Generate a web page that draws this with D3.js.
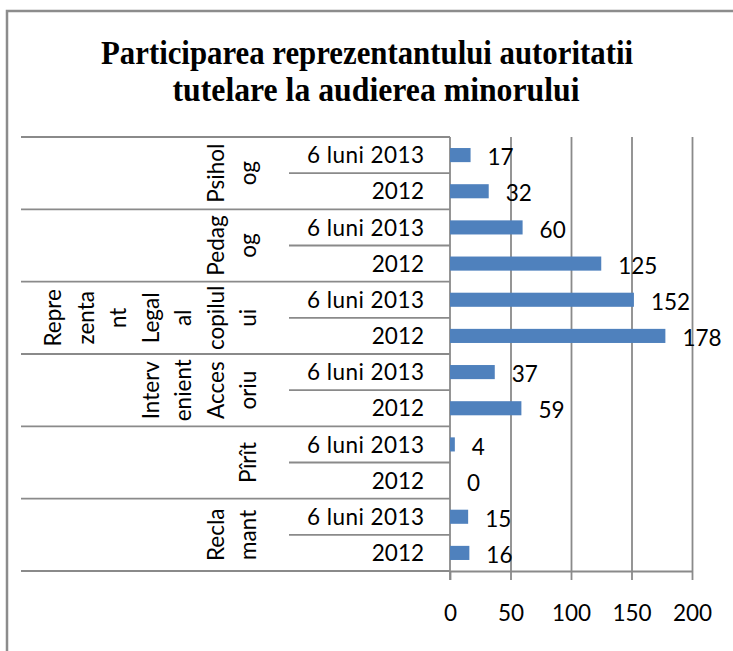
<!DOCTYPE html>
<html>
<head>
<meta charset="utf-8">
<script src="https://cdn.jsdelivr.net/npm/d3@7"></script>
<style>
  html, body { margin: 0; padding: 0; background: #fff; overflow: hidden; }
  svg { display: block; }
</style>
</head>
<body>
<svg id="chart" width="733" height="651"></svg>
<script>
// ---- data ----
const titleLines = ["Participarea reprezentantului autoritatii", "tutelare la audierea minorului"];
const groups = ["Psiholog", "Pedagog", "Reprezentant Legal al copilului", "Intervenient Accesoriu", "Pîrît", "Reclamant"];
const groupLabelLines = [
  ["Psihol", "og"],
  ["Pedag", "og"],
  ["Repre", "zenta", "nt", "Legal", "al", "copilul", "ui"],
  ["Interv", "enient", "Acces", "oriu"],
  ["Pîrît"],
  ["Recla", "mant"]
];
const periods = ["6 luni 2013", "2012"];
const values2013 = [17, 60, 152, 37, 4, 15];
const values2012 = [32, 125, 178, 59, 0, 16];
const xTicks = [0, 50, 100, 150, 200];

// ---- build rows ----
const rows = [];
groups.forEach((g, i) => {
  rows.push({ key: g + "|" + periods[0], group: i, period: periods[0], value: values2013[i] });
  rows.push({ key: g + "|" + periods[1], group: i, period: periods[1], value: values2012[i] });
});

const svg = d3.select("#chart");
const FONT = "Lato, 'Open Sans', sans-serif";
const GRID = "#8a8a8a";

// frame (only top and left edges are inside the picture)
svg.append("path")
  .attr("d", "M7,651 L7,11 L733,11")
  .attr("fill", "none").attr("stroke", "#8c8c8c").attr("stroke-width", 2.5);

// title
const title = svg.append("text")
  .attr("font-family", "'Liberation Serif', 'Times New Roman', serif")
  .attr("font-weight", "bold").attr("font-size", 33)
  .attr("text-anchor", "middle").attr("fill", "#000");
title.append("tspan").attr("x", 367).attr("y", 64).text(titleLines[0])
  .attr("textLength", 532).attr("lengthAdjust", "spacingAndGlyphs");
title.append("tspan").attr("x", 376).attr("y", 101).text(titleLines[1])
  .attr("textLength", 407).attr("lengthAdjust", "spacingAndGlyphs");

// scales
const plotTop = 137, plotBottom = 571, plotLeft = 450, plotRight = 692;
const x = d3.scaleLinear().domain([0, 200]).range([plotLeft, plotRight]);
const y = d3.scaleBand().domain(rows.map(d => d.key)).range([plotTop, plotBottom])
  .paddingInner(0.61).paddingOuter(0.305);
const step = y.step();

// gridlines
svg.append("g").attr("transform", `translate(0,${plotBottom})`)
  .call(d3.axisBottom(x).tickValues(xTicks.slice(1)).tickSize(-(plotBottom - plotTop)).tickFormat(""))
  .call(g => g.select(".domain").remove())
  .call(g => g.selectAll("line").attr("stroke", GRID).attr("stroke-width", 1.8));

// x axis
const xAxis = svg.append("g").attr("transform", `translate(0,${plotBottom})`)
  .call(d3.axisBottom(x).tickValues(xTicks).tickSize(9).tickPadding(25).tickSizeOuter(0));
xAxis.select(".domain").attr("stroke", GRID).attr("stroke-width", 1.8);
xAxis.selectAll("line").attr("stroke", GRID).attr("stroke-width", 1.8);
xAxis.selectAll("text").attr("font-family", FONT).attr("font-size", 22.5).attr("fill", "#000");

// category axis lines
const catLines = svg.append("g").attr("stroke", GRID).attr("stroke-width", 1.8);
d3.range(groups.length + 1).forEach(i => {
  const yy = plotTop + i * 2 * step;
  catLines.append("line").attr("x1", 21).attr("x2", plotLeft).attr("y1", yy).attr("y2", yy);
});
d3.range(groups.length).forEach(i => {
  const yy = plotTop + (i * 2 + 1) * step;
  catLines.append("line").attr("x1", 289).attr("x2", plotLeft).attr("y1", yy).attr("y2", yy);
});
catLines.append("line").attr("x1", plotLeft).attr("x2", plotLeft).attr("y1", plotTop).attr("y2", plotBottom + 9);

// bars
svg.append("g").selectAll("rect").data(rows).join("rect")
  .attr("x", x(0)).attr("y", d => y(d.key))
  .attr("width", d => x(d.value) - x(0)).attr("height", y.bandwidth())
  .attr("fill", "#4f81bd");

// value labels
svg.append("g").selectAll("text").data(rows).join("text")
  .attr("x", d => x(d.value) + 17)
  .attr("y", d => y(d.key) + y.bandwidth() / 2 + 2)
  .attr("dy", "0.36em")
  .attr("font-family", FONT).attr("font-size", 22.5).attr("fill", "#000")
  .text(d => d.value);

// period labels
svg.append("g").selectAll("text").data(rows).join("text")
  .attr("x", 424)
  .attr("y", d => y(d.key) + y.bandwidth() / 2)
  .attr("dy", "0.36em")
  .attr("text-anchor", "end")
  .attr("font-family", FONT).attr("font-size", 22.5).attr("fill", "#000")
  .each(function (d) {
    if (d.period === periods[0]) d3.select(this).attr("textLength", 117).attr("lengthAdjust", "spacing");
  })
  .text(d => d.period);

// group labels (rotated, wrapped)
const lastBaseline = 256, pitch = 32.5;
groupLabelLines.forEach((lines, gi) => {
  const cy = plotTop + (gi * 2 + 1) * step;
  lines.forEach((ln, li) => {
    const bx = lastBaseline - (lines.length - 1 - li) * pitch;
    svg.append("text")
      .attr("transform", `translate(${bx},${cy}) rotate(-90)`)
      .attr("text-anchor", "middle")
      .attr("font-family", FONT).attr("font-size", 22.5).attr("fill", "#000")
      .text(ln);
  });
});
</script>
</body>
</html>
